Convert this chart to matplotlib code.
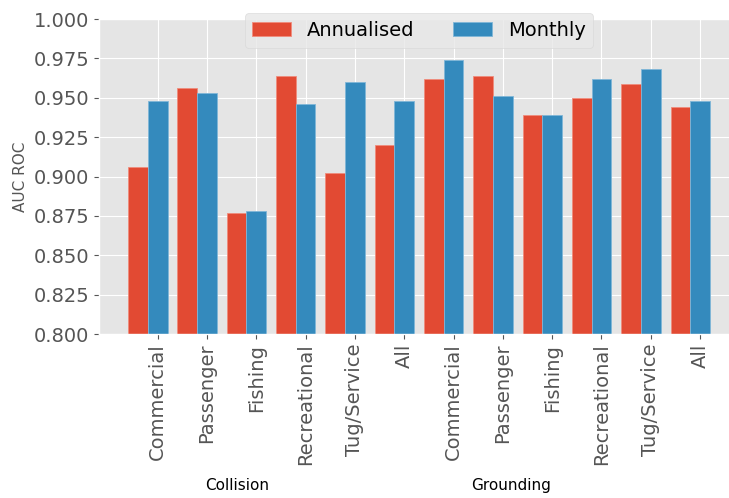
import numpy as np
import matplotlib
matplotlib.use("Agg")
import matplotlib.pyplot as plt

plt.style.use("ggplot")

# bar categories (two incident types x six vessel classes)
vessel_types = ["Commercial", "Passenger", "Fishing", "Recreational", "Tug/Service", "All"]
groups = ["Collision", "Grounding"]
tick_labels = vessel_types * 2

annualised = [0.906, 0.956, 0.877, 0.964, 0.902, 0.920,
              0.962, 0.964, 0.939, 0.950, 0.959, 0.944]
monthly = [0.948, 0.953, 0.878, 0.946, 0.960, 0.948,
           0.974, 0.951, 0.939, 0.962, 0.968, 0.948]

fig = plt.figure(figsize=(7.29, 4.98), dpi=100)
ax = fig.add_axes([0.1358, 0.3293, 0.878, 0.6325])

x = np.arange(len(tick_labels))
w = 0.4
ax.bar(x - w, annualised, w, color="#E24A33", edgecolor="#f08c7c",
       linewidth=0.6, label="Annualised")
ax.bar(x, monthly, w, color="#348ABD", edgecolor="#7fb6d8",
       linewidth=0.6, label="Monthly")

ax.set_ylim(0.8, 1.0)
ax.set_xticks(x)
ax.set_xticklabels(tick_labels, rotation=90, fontsize=14, color="#555555")
ax.tick_params(axis="y", labelsize=14, labelcolor="#555555")
ax.set_ylabel("AUC ROC", fontsize=11, color="#555555")

leg = ax.legend(loc="upper center", bbox_to_anchor=(0.5, 1.05), ncol=2,
                fontsize=14, frameon=True)
leg.get_frame().set_facecolor("#e8e8e8")
leg.get_frame().set_edgecolor("#d6d6d6")

# group labels under the tick labels
fig.text(237 / 729, 1 - 485 / 498, groups[0], ha="center", va="center",
         fontsize=11, color="black")
fig.text(511 / 729, 1 - 485 / 498, groups[1], ha="center", va="center",
         fontsize=11, color="black")

fig.savefig("out.png", dpi=100)
